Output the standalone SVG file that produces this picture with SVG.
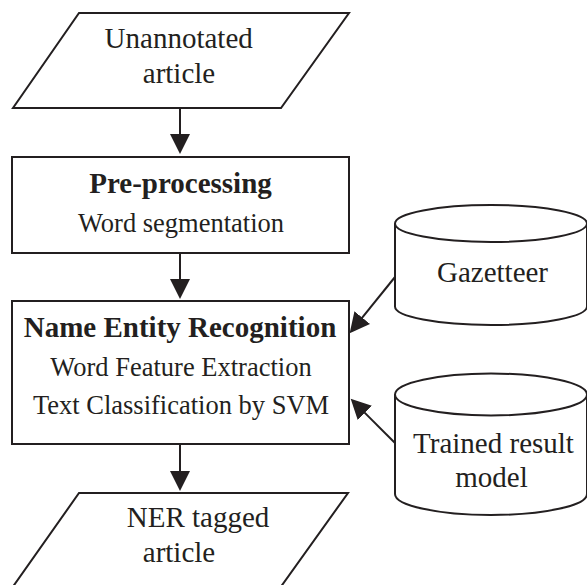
<svg xmlns="http://www.w3.org/2000/svg" width="587" height="585" viewBox="0 0 587 585">
  <style>
    .shape { fill: #ffffff; stroke: #231f20; stroke-width: 2; }
    .edge { fill: none; stroke: #231f20; stroke-width: 2; }
    text { font-family: "Liberation Serif", "Times New Roman", serif; fill: #231f20; text-anchor: middle; }
    .big { font-size: 29px; }
    .sub { font-size: 26.5px; }
    .title { font-size: 29px; font-weight: bold; }
  </style>
  <defs>
    <marker id="arrow" markerUnits="userSpaceOnUse" markerWidth="22" markerHeight="22" refX="1" refY="10" orient="auto">
      <path d="M0,0 L20,10 L0,20 Z" fill="#231f20"/>
    </marker>
  </defs>
  <rect width="587" height="585" fill="#ffffff"/>

  <!-- connectors -->
  <g id="connectors">
    <line class="edge" x1="180" y1="108" x2="180" y2="135" marker-end="url(#arrow)"/>
    <line class="edge" x1="180" y1="253" x2="180" y2="280" marker-end="url(#arrow)"/>
    <line class="edge" x1="180" y1="444" x2="180" y2="472" marker-end="url(#arrow)"/>
    <line class="edge" x1="395" y1="277" x2="361.6" y2="318.4" marker-end="url(#arrow)"/>
    <line class="edge" x1="395" y1="443" x2="364.1" y2="412.1" marker-end="url(#arrow)"/>
  </g>

  <!-- input document -->
  <g id="input">
    <polygon class="shape" points="79,13 349,13 281,108 13,108"/>
    <text class="big" x="178.7" y="48">Unannotated</text>
    <text class="big" x="179" y="83">article</text>
  </g>

  <!-- pre-processing step -->
  <g id="preprocessing">
    <rect class="shape" x="12" y="157" width="337" height="96"/>
    <text class="title" x="180.5" y="193">Pre-processing</text>
    <text class="sub" x="181" y="232">Word segmentation</text>
  </g>

  <!-- recognition step -->
  <g id="ner">
    <rect class="shape" x="12" y="301" width="337" height="143"/>
    <text class="title" x="180" y="337">Name Entity Recognition</text>
    <text class="sub" x="181" y="376">Word Feature Extraction</text>
    <text class="sub" x="181" y="414">Text Classification by SVM</text>
  </g>

  <!-- output document -->
  <g id="output">
    <polygon class="shape" points="79,493 348,493 280,588 12,588"/>
    <text class="big" x="198" y="527">NER tagged</text>
    <text class="big" x="179" y="562">article</text>
  </g>

  <!-- gazetteer store -->
  <g id="gazetteer">
    <path class="shape" d="M395,223.5 L395,306.5 A96,18.5 0 0 0 587,306.5 L587,223.5"/>
    <ellipse class="shape" cx="491" cy="223.5" rx="96" ry="18.5"/>
    <text class="big" x="492.5" y="282">Gazetteer</text>
  </g>

  <!-- trained model store -->
  <g id="model">
    <path class="shape" d="M395,394.5 L395,494 A96,21 0 0 0 587,494 L587,394.5"/>
    <ellipse class="shape" cx="491" cy="394.5" rx="96" ry="21"/>
    <text class="big" x="493.5" y="453">Trained result</text>
    <text class="big" x="491.5" y="487">model</text>
  </g>
</svg>
